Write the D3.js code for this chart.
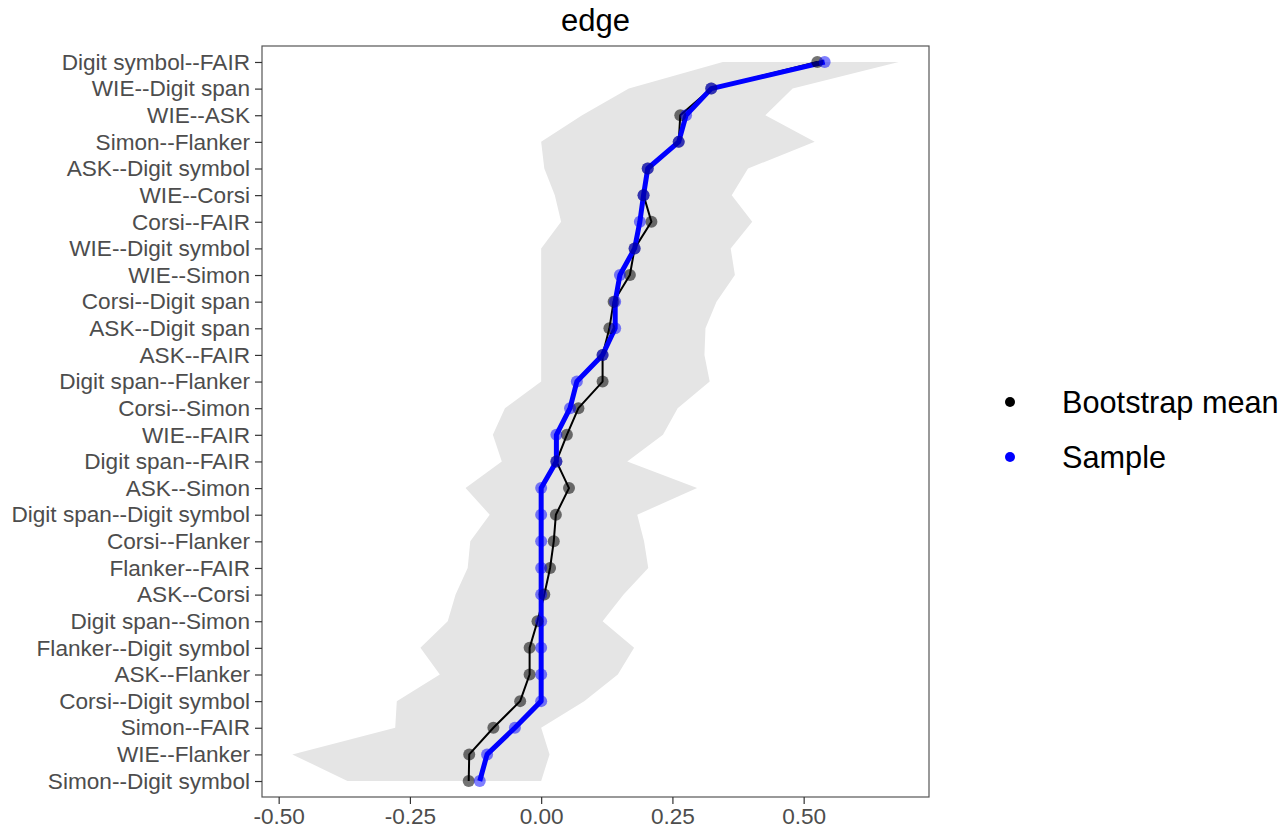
<!DOCTYPE html>
<html>
<head>
<meta charset="utf-8">
<script src="https://cdn.jsdelivr.net/npm/d3@7"></script>
<style>
  html, body { margin: 0; padding: 0; background: #ffffff; }
  svg { display: block; font-family: "Liberation Sans", Arial, sans-serif; }
</style>
</head>
<body>
<svg id="chart" width="1283" height="829"></svg>
<script>
// Edges, ordered from strongest (top) to weakest (bottom)
const edges = [
  "Digit symbol--FAIR", "WIE--Digit span", "WIE--ASK", "Simon--Flanker",
  "ASK--Digit symbol", "WIE--Corsi", "Corsi--FAIR", "WIE--Digit symbol",
  "WIE--Simon", "Corsi--Digit span", "ASK--Digit span", "ASK--FAIR",
  "Digit span--Flanker", "Corsi--Simon", "WIE--FAIR", "Digit span--FAIR",
  "ASK--Simon", "Digit span--Digit symbol", "Corsi--Flanker", "Flanker--FAIR",
  "ASK--Corsi", "Digit span--Simon", "Flanker--Digit symbol", "ASK--Flanker",
  "Corsi--Digit symbol", "Simon--FAIR", "WIE--Flanker", "Simon--Digit symbol"
];

// Edge weight in the original sample
const sampleValues = [
  0.540, 0.324, 0.276, 0.262, 0.203, 0.195, 0.188, 0.178,
  0.150, 0.141, 0.141, 0.117, 0.068, 0.055, 0.029, 0.029,
  0.000, 0.000, 0.000, 0.000, 0.000, 0.000, 0.000, 0.000,
  0.000, -0.050, -0.103, -0.117
];

// Mean edge weight over bootstrap samples
const bootMean = [
  0.526, 0.324, 0.265, 0.262, 0.203, 0.195, 0.210, 0.178,
  0.169, 0.138, 0.130, 0.117, 0.117, 0.071, 0.049, 0.029,
  0.053, 0.028, 0.024, 0.017, 0.006, -0.007, -0.022, -0.022,
  -0.040, -0.091, -0.137, -0.138
];

// Bootstrapped interval bounds
const ciLower = [
  0.346, 0.167, 0.078, 0.000, 0.006, 0.026, 0.038, 0.000,
  0.000, 0.000, 0.000, 0.000, 0.000, -0.069, -0.092, -0.075,
  -0.144, -0.098, -0.135, -0.140, -0.163, -0.178, -0.230, -0.193,
  -0.275, -0.278, -0.474, -0.369
];
const ciUpper = [
  0.681, 0.479, 0.427, 0.521, 0.394, 0.363, 0.402, 0.361,
  0.369, 0.334, 0.313, 0.311, 0.321, 0.260, 0.232, 0.164,
  0.297, 0.183, 0.196, 0.204, 0.157, 0.117, 0.177, 0.146,
  0.082, 0.000, 0.016, 0.000
];

const xTicks = [-0.50, -0.25, 0.00, 0.25, 0.50];
const legendLabels = ["Bootstrap mean", "Sample"];
const legendColors = ["#000000", "#0000ff"];

const rows = edges.map((e, i) => ({
  edge: e, sample: sampleValues[i], mean: bootMean[i],
  lower: ciLower[i], upper: ciUpper[i]
}));

const svg = d3.select("#chart");
const panel = { left: 262, right: 929, top: 46, bottom: 797 };

// x scale with 5% expansion around the data range
const allVals = ciLower.concat(ciUpper, sampleValues, bootMean);
const lo = d3.min(allVals), hi = d3.max(allVals);
const pad = (hi - lo) * 0.05;
const x = d3.scaleLinear().domain([lo - pad, hi + pad]).range([panel.left, panel.right]);
const y = d3.scalePoint().domain(edges).range([panel.top, panel.bottom]).padding(0.6);

const axisColor = "#4d4d4d";

// Confidence ribbon
const ribbon = d3.area()
  .y(d => y(d.edge))
  .x0(d => x(d.lower))
  .x1(d => x(d.upper));
svg.append("path").datum(rows)
  .attr("d", ribbon)
  .attr("fill", "#e5e5e5");

// Lines: bootstrap mean first, sample drawn on top
const lineOf = key => d3.line().x(d => x(d[key])).y(d => y(d.edge));
svg.append("path").datum(rows)
  .attr("d", lineOf("mean"))
  .attr("fill", "none").attr("stroke", "#000000")
  .attr("stroke-width", 2).attr("stroke-linejoin", "round");
svg.append("path").datum(rows)
  .attr("d", lineOf("sample"))
  .attr("fill", "none").attr("stroke", "#0000ff")
  .attr("stroke-width", 5).attr("stroke-linejoin", "round");

// Points
svg.append("g").selectAll("circle").data(rows).join("circle")
  .attr("cx", d => x(d.mean)).attr("cy", d => y(d.edge)).attr("r", 6)
  .attr("fill", "#000000").attr("fill-opacity", 0.55);
svg.append("g").selectAll("circle").data(rows).join("circle")
  .attr("cx", d => x(d.sample)).attr("cy", d => y(d.edge)).attr("r", 6)
  .attr("fill", "#0000ff").attr("fill-opacity", 0.5);

// Panel border
svg.append("rect")
  .attr("x", panel.left).attr("y", panel.top)
  .attr("width", panel.right - panel.left).attr("height", panel.bottom - panel.top)
  .attr("fill", "none").attr("stroke", "#555555").attr("stroke-width", 1.2);

// Axes
const xAxis = svg.append("g")
  .attr("transform", `translate(0,${panel.bottom})`)
  .call(d3.axisBottom(x).tickValues(xTicks).tickFormat(d => d.toFixed(2)).tickSize(7).tickPadding(4));
const yAxis = svg.append("g")
  .attr("transform", `translate(${panel.left},0)`)
  .call(d3.axisLeft(y).tickSize(7).tickPadding(5));

[xAxis, yAxis].forEach(g => {
  g.select(".domain").remove();
  g.selectAll(".tick line").attr("stroke", "#333333").attr("stroke-width", 1.2);
  g.selectAll(".tick text")
    .attr("fill", axisColor)
    .style("font-size", "22.6px")
    .style("font-family", "'Liberation Sans', Arial, sans-serif");
});

// Title
svg.append("text")
  .attr("x", (panel.left + panel.right) / 2).attr("y", 31)
  .attr("text-anchor", "middle")
  .style("font-size", "31px").attr("fill", "#000000")
  .text("edge");

// Legend
const legend = svg.append("g");
legendLabels.forEach((lab, i) => {
  const cy = 402 + i * 55;
  legend.append("circle").attr("cx", 1010).attr("cy", cy).attr("r", 5).attr("fill", legendColors[i]);
  legend.append("text").attr("x", 1062).attr("y", cy).attr("dy", "0.35em")
    .style("font-size", "30.7px").attr("fill", "#000000").text(lab);
});
</script>
</body>
</html>
